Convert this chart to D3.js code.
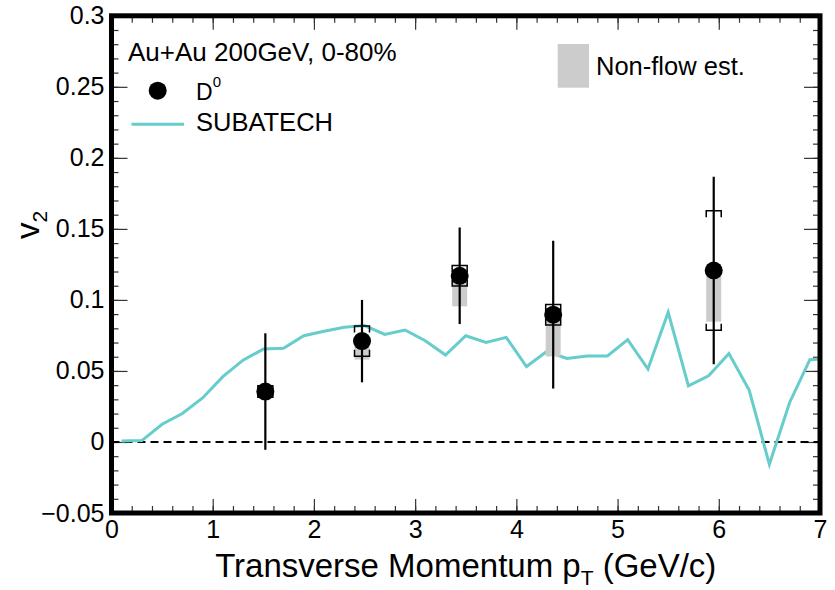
<!DOCTYPE html>
<html>
<head>
<meta charset="utf-8">
<script src="https://cdn.jsdelivr.net/npm/d3@7"></script>
<style>
  body { margin: 0; background: #fff; }
  svg text { font-family: "Liberation Sans", Arial, Helvetica, sans-serif; fill: #000; }
</style>
</head>
<body>
<svg id="chart" width="835" height="590"></svg>
<script>
// SUBATECH model curve
var modelPt = [0.1, 0.3, 0.5, 0.7, 0.9, 1.1, 1.3, 1.5, 1.7, 1.9, 2.1, 2.3, 2.5, 2.7, 2.9, 3.1, 3.3, 3.5,
               3.7, 3.9, 4.1, 4.3, 4.5, 4.7, 4.9, 5.1, 5.3, 5.5, 5.7, 5.9, 6.1, 6.3, 6.5, 6.7, 6.9, 7.1];
var modelV2 = [0.0007, 0.001, 0.0125, 0.020, 0.031, 0.046, 0.0576, 0.0654, 0.066, 0.0748, 0.078, 0.0807,
               0.0819, 0.0757, 0.0788, 0.0713, 0.0612, 0.0748, 0.070, 0.0736, 0.0531, 0.0637, 0.0588, 0.0605,
               0.0605, 0.072, 0.0513, 0.0913, 0.0395, 0.0466, 0.0623, 0.0365, -0.0157, 0.0278, 0.0579, 0.059];

// D0 measurement
var d0Pt = [1.52, 2.475, 3.44, 4.364, 5.95];
var d0V2 = [0.0355, 0.071, 0.117, 0.0896, 0.1207];
var d0Stat = [0.041, 0.029, 0.034, 0.052, 0.066];
var d0Sys = [0.004, 0.0107, 0.0072, 0.0072, 0.042];
var d0NonFlow = [0.004, 0.013, 0.0215, 0.0294, 0.036];

// axes
var xTicks = [0, 1, 2, 3, 4, 5, 6, 7];
var xMinor = d3.range(0, 7.001, 0.2);
var yTicks = [-0.05, 0, 0.05, 0.1, 0.15, 0.2, 0.25, 0.3];
var yTickLabels = ["\u22120.05", "0", "0.05", "0.1", "0.15", "0.2", "0.25", "0.3"];
var yMinor = d3.range(-0.05, 0.3001, 0.01);

var svg = d3.select("#chart");
var pLeft = 111.5, pRight = 820, pTop = 15.8, pBottom = 513;

var x = d3.scaleLinear().domain([0, 7]).range([pLeft, pRight]);
var y = d3.scaleLinear().domain([-0.05, 0.3]).range([pBottom, pTop]);

svg.append("defs").append("clipPath").attr("id", "plotClip")
  .append("rect")
  .attr("x", pLeft).attr("y", pTop)
  .attr("width", pRight - pLeft).attr("height", pBottom - pTop);

// ticks on all four sides, pointing inwards
function styleAxis(g) {
  g.select(".domain").remove();
  g.selectAll(".tick line").attr("stroke", "#333").attr("stroke-width", 1.2);
  g.selectAll(".tick text").style("font-size", "25px");
}
svg.append("g").attr("transform", "translate(0," + pBottom + ")")
  .call(d3.axisBottom(x).tickValues(xMinor).tickSize(-7).tickFormat(""))
  .call(styleAxis);
svg.append("g").attr("transform", "translate(0," + pBottom + ")")
  .call(d3.axisBottom(x).tickValues(xTicks).tickSize(-14).tickPadding(7).tickFormat(d3.format("d")))
  .call(styleAxis);
svg.append("g").attr("transform", "translate(0," + pTop + ")")
  .call(d3.axisTop(x).tickValues(xMinor).tickSize(-7).tickFormat(""))
  .call(styleAxis);
svg.append("g").attr("transform", "translate(0," + pTop + ")")
  .call(d3.axisTop(x).tickValues(xTicks).tickSize(-14).tickFormat(""))
  .call(styleAxis);
svg.append("g").attr("transform", "translate(" + pLeft + ",0)")
  .call(d3.axisLeft(y).tickValues(yMinor).tickSize(-7).tickFormat(""))
  .call(styleAxis);
svg.append("g").attr("transform", "translate(" + pLeft + ",0)")
  .call(d3.axisLeft(y).tickValues(yTicks).tickSize(-16).tickPadding(7)
    .tickFormat(function(d, i) { return yTickLabels[i]; }))
  .call(styleAxis);
svg.append("g").attr("transform", "translate(" + pRight + ",0)")
  .call(d3.axisRight(y).tickValues(yMinor).tickSize(-7).tickFormat(""))
  .call(styleAxis);
svg.append("g").attr("transform", "translate(" + pRight + ",0)")
  .call(d3.axisRight(y).tickValues(yTicks).tickSize(-16).tickFormat(""))
  .call(styleAxis);

var plot = svg.append("g").attr("clip-path", "url(#plotClip)");

// zero line
plot.append("line")
  .attr("x1", x(0)).attr("x2", x(7))
  .attr("y1", y(0)).attr("y2", y(0))
  .attr("stroke", "#000").attr("stroke-width", 2)
  .attr("stroke-dasharray", "8,5");

// model curve
var line = d3.line()
  .x(function(d, i) { return x(modelPt[i]); })
  .y(function(d) { return y(d); });
plot.append("path")
  .attr("d", line(modelV2))
  .attr("fill", "none")
  .attr("stroke", "#66cccc")
  .attr("stroke-width", 3);

// non-flow boxes
plot.selectAll("rect.nonflow").data(d0V2).enter().append("rect")
  .attr("class", "nonflow")
  .attr("x", function(d, i) { return x(d0Pt[i]) - 7.5; })
  .attr("width", 15)
  .attr("y", function(d) { return y(d); })
  .attr("height", function(d, i) { return y(d - d0NonFlow[i]) - y(d); })
  .attr("fill", "#cccccc");

// systematic brackets
d0V2.forEach(function(v, i) {
  var cx = x(d0Pt[i]), hw = 7.5, tick = 6.5;
  var yt = y(v + d0Sys[i]), yb = y(v - d0Sys[i]);
  plot.append("path")
    .attr("d", "M" + (cx - hw) + "," + (yt + tick) + "V" + yt + "H" + (cx + hw) + "V" + (yt + tick) +
               "M" + (cx - hw) + "," + (yb - tick) + "V" + yb + "H" + (cx + hw) + "V" + (yb - tick))
    .attr("fill", "none")
    .attr("stroke", "#000")
    .attr("stroke-width", 1.5);
});

// stat errors
plot.selectAll("line.stat").data(d0V2).enter().append("line")
  .attr("class", "stat")
  .attr("x1", function(d, i) { return x(d0Pt[i]); })
  .attr("x2", function(d, i) { return x(d0Pt[i]); })
  .attr("y1", function(d, i) { return y(d + d0Stat[i]); })
  .attr("y2", function(d, i) { return y(d - d0Stat[i]); })
  .attr("stroke", "#000").attr("stroke-width", 2.2);

// markers
plot.selectAll("circle.d0").data(d0V2).enter().append("circle")
  .attr("class", "d0")
  .attr("cx", function(d, i) { return x(d0Pt[i]); })
  .attr("cy", function(d) { return y(d); })
  .attr("r", 9)
  .attr("fill", "#000");

// frame
svg.append("rect")
  .attr("x", pLeft).attr("y", pTop)
  .attr("width", pRight - pLeft).attr("height", pBottom - pTop)
  .attr("fill", "none").attr("stroke", "#000").attr("stroke-width", 5);

// axis titles
var xt = svg.append("text")
  .attr("x", x(3.5)).attr("y", 577)
  .attr("text-anchor", "middle")
  .style("font-size", "33px")
  .text("Transverse Momentum p");
xt.append("tspan").attr("dy", 8).style("font-size", "21px").text("T");
xt.append("tspan").attr("dy", -8).text(" (GeV/c)");

var ytl = svg.append("text")
  .attr("transform", "translate(39,225) rotate(-90)")
  .attr("text-anchor", "middle")
  .style("font-size", "33px")
  .text("v");
ytl.append("tspan").attr("dy", 8).style("font-size", "21px").text("2");

// legend
svg.append("text").attr("x", 128).attr("y", 61)
  .style("font-size", "26px")
  .text("Au+Au 200GeV, 0-80%");
svg.append("circle").attr("cx", 157.7).attr("cy", 90.7).attr("r", 9).attr("fill", "#000");
var dl = svg.append("text").attr("x", 196).attr("y", 99.5).style("font-size", "23px").text("D");
dl.append("tspan").attr("dy", -13).style("font-size", "15px").text("0");
svg.append("line").attr("x1", 131.5).attr("x2", 184).attr("y1", 124.3).attr("y2", 124.3)
  .attr("stroke", "#66cccc").attr("stroke-width", 3);
svg.append("text").attr("x", 196).attr("y", 131).style("font-size", "25.5px").text("SUBATECH");

svg.append("rect").attr("x", 557.7).attr("y", 44).attr("width", 31.3).attr("height", 43.7)
  .attr("fill", "#cccccc");
svg.append("text").attr("x", 596).attr("y", 75).style("font-size", "25.5px").text("Non-flow est.");
</script>
</body>
</html>
